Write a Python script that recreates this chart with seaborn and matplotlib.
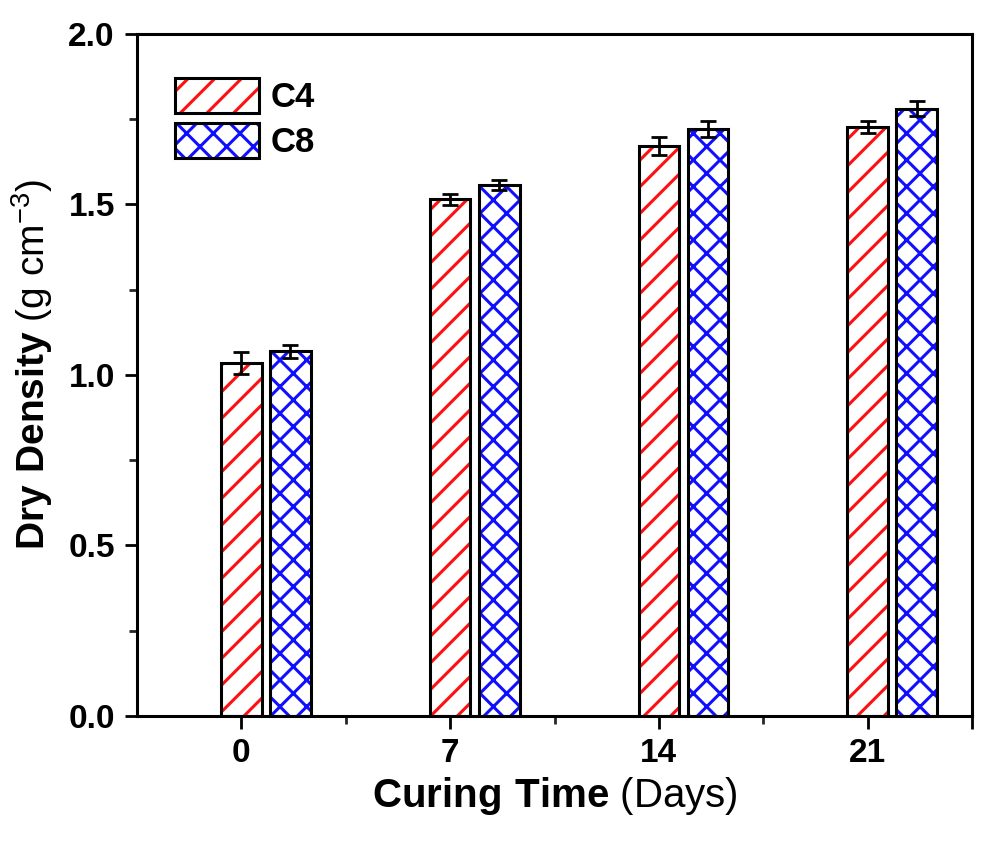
import numpy as np
import pandas as pd
import seaborn as sns
import matplotlib.pyplot as plt
from matplotlib.patches import Rectangle
from matplotlib.legend_handler import HandlerPatch
from matplotlib.ticker import MultipleLocator, FixedLocator

# Data
days = ['0', '7', '14', '21']
groups = ['C4', 'C8']
c4_density = [1.035, 1.515, 1.672, 1.727]
c8_density = [1.069, 1.558, 1.721, 1.781]
c4_err = [0.033, 0.016, 0.027, 0.017]
c8_err = [0.020, 0.015, 0.023, 0.021]

hatch_colors = ['#ff1010', '#1010ff']
hatches = ['/', 'x']

# render at 80 dpi so the hatch pattern comes out denser;
# every size in points is scaled by S to keep pixel sizes
DPI = 80
S = 100 / DPI
HATCH_LW = 2.2 * S

data = pd.DataFrame({
    'day': days * 2,
    'group': [groups[0]] * 4 + [groups[1]] * 4,
    'density': c4_density + c8_density,
    'err': c4_err + c8_err,
})

sns.set_theme(style='ticks')
plt.rcParams['font.family'] = ['Liberation Sans', 'DejaVu Sans']
plt.rcParams['mathtext.fontset'] = 'custom'
plt.rcParams['mathtext.rm'] = 'Liberation Sans'
plt.rcParams['mathtext.bf'] = 'Liberation Sans:bold'
plt.rcParams['hatch.linewidth'] = HATCH_LW
plt.rcParams['text.color'] = 'black'
plt.rcParams['axes.labelcolor'] = 'black'

fig = plt.figure(figsize=(1000 / DPI, 849 / DPI), dpi=DPI)
ax = fig.add_axes([0.137, 0.1567, 0.835, 0.8033])

sns.barplot(data=data, x='day', y='density', hue='group', order=days,
            hue_order=groups, palette=['white', 'white'], width=0.47,
            gap=0.17, saturation=1, legend=False, errorbar=None, ax=ax)


def set_hatch_lw(patch):
    if hasattr(patch, 'set_hatch_linewidth'):
        patch.set_hatch_linewidth(HATCH_LW)


bar_sets = list(ax.containers[:2])
errs = [c4_err, c8_err]
for bars, col, hat, err in zip(bar_sets, hatch_colors, hatches, errs):
    for p in bars:
        p.set_hatch(hat)
        p.set_edgecolor(col)
        p.set_linewidth(0)
        set_hatch_lw(p)
        # black outline on top of the coloured hatch
        ax.add_patch(Rectangle(p.get_xy(), p.get_width(), p.get_height(),
                               fill=False, edgecolor='black',
                               linewidth=2.2 * S,
                               zorder=p.get_zorder() + 0.1))
    xs = [p.get_x() + p.get_width() / 2 for p in bars]
    ys = [p.get_height() for p in bars]
    ax.errorbar(xs, ys, yerr=err, fmt='none', ecolor='black',
                elinewidth=2.0 * S, capsize=6 * S, capthick=2.0 * S,
                zorder=4)


class OutlinedHandler(HandlerPatch):
    def create_artists(self, legend, orig_handle, xdescent, ydescent,
                       width, height, fontsize, trans):
        fill = Rectangle((-xdescent, -ydescent), width, height,
                         facecolor='white',
                         edgecolor=orig_handle.get_edgecolor(),
                         hatch=orig_handle.get_hatch(), linewidth=0,
                         transform=trans)
        set_hatch_lw(fill)
        edge = Rectangle((-xdescent, -ydescent), width, height, fill=False,
                         edgecolor='black', linewidth=2.2 * S,
                         transform=trans)
        return [fill, edge]


leg_handles = [Rectangle((0, 0), 1, 1, facecolor='white', edgecolor=col,
                         hatch=hat, linewidth=0)
               for col, hat in zip(hatch_colors, hatches)]
leg = ax.legend(leg_handles, groups, loc='upper left', frameon=False,
                handler_map={Rectangle: OutlinedHandler()},
                prop={'weight': 'bold', 'size': 25 * S},
                handlelength=2.4, handleheight=1.15, labelspacing=0.26,
                handletextpad=0.35, borderaxespad=0.0, borderpad=0.0,
                bbox_to_anchor=(0.046, 0.935))

# ticks centred on the C4 bars
tick_pos = [p.get_x() + p.get_width() / 2 for p in bar_sets[0]]
ax.set_xticks(tick_pos)
ax.set_xticklabels(days)
ax.xaxis.set_minor_locator(FixedLocator(
    [(a + b) / 2 for a, b in zip(tick_pos[:-1], tick_pos[1:])]))
ax.set_xlim(tick_pos[0] - 0.5, tick_pos[-1] + 0.5)

ax.set_ylim(0, 2.0)
ax.yaxis.set_major_locator(MultipleLocator(0.5))
ax.yaxis.set_minor_locator(MultipleLocator(0.25))
ax.yaxis.set_major_formatter(plt.FormatStrFormatter('%.1f'))

for s in ax.spines.values():
    s.set_visible(True)
    s.set_linewidth(2.2 * S)
    s.set_color('black')

ax.tick_params(axis='both', which='major', direction='out', length=9 * S,
               width=2.0 * S, labelsize=24 * S, pad=7 * S, colors='black')
ax.tick_params(axis='both', which='minor', direction='out',
               length=5.5 * S, width=2.0 * S)
ax.tick_params(axis='y', which='both', right=True)
for t in ax.get_xticklabels() + ax.get_yticklabels():
    t.set_fontweight('bold')

# right-side ticks point inwards
for tick in ax.yaxis.get_major_ticks() + ax.yaxis.get_minor_ticks():
    tick.tick2line.set_marker(3)  # TICKLEFT

ax.set_xlabel(r'$\mathbf{Curing\ Time}$ (Days)', fontsize=29 * S,
              labelpad=4 * S)
ax.set_ylabel(r'$\mathbf{Dry\ Density}$ (g cm$^{-3}$)', fontsize=28 * S,
              labelpad=8 * S)
ax.yaxis.set_label_coords(-0.098, 0.515)

fig.savefig('out.png', dpi=DPI, facecolor='white')
